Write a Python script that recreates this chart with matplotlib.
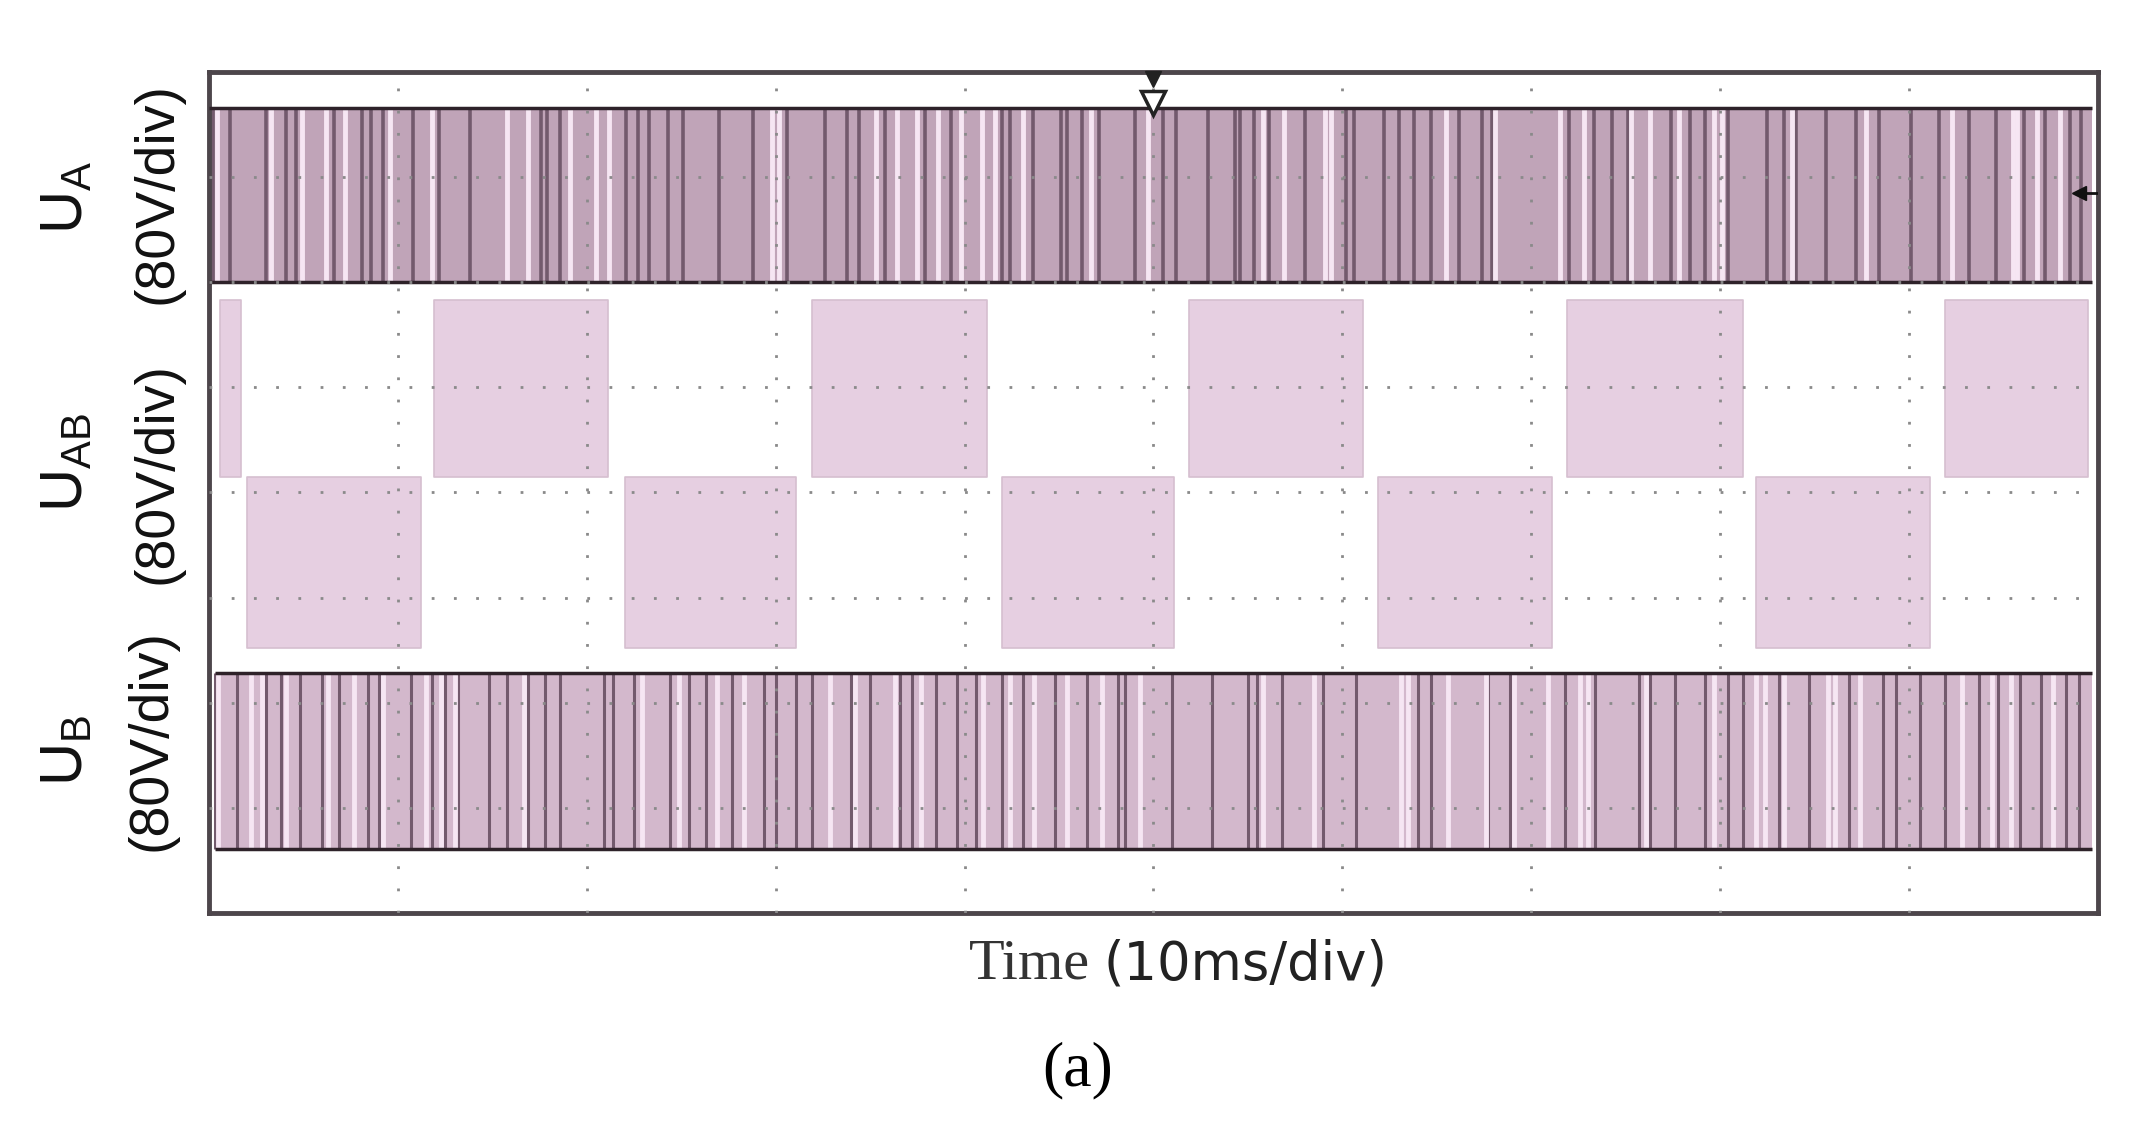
import matplotlib.pyplot as plt
import numpy as np

# ---- dados lidos do osciloscopio (eixo x e y em divisoes) ----
# niveis das tres formas de onda
ua_nivel = [6.00, 7.66]          # U_A : baixo, alto
uab_nivel = [2.52, 4.15, 5.83]   # U_AB: negativo, zero, positivo
ub_nivel = [0.61, 2.28]          # U_B : baixo, alto

# blocos positivos e negativos de U_AB (inicio, fim)
uab_pos = [(0.06, 0.17), (1.19, 2.11), (3.19, 4.12), (5.19, 6.11), (7.19, 8.12), (9.19, 9.95)]
uab_neg = [(0.20, 1.12), (2.20, 3.11), (4.20, 5.11), (6.19, 7.11), (8.19, 9.11)]

# faixas escuras / claras do PWM de U_A
ua_escuro = [0.02, 0.11, 0.30, 0.41, 0.46, 0.66, 0.81, 0.86, 0.92, 1.08, 1.22, 1.38,
             1.76, 1.79, 1.86, 2.21, 2.27, 2.33, 2.43, 2.51, 2.70, 2.88, 3.06, 3.26,
             3.38, 3.44, 3.58, 3.79, 3.93, 4.20, 4.24, 4.36, 4.51, 4.54, 4.62, 4.71,
             4.90, 5.05, 5.12, 5.29, 5.43, 5.46, 5.53, 5.61, 5.80, 6.02, 6.06, 6.22,
             6.30, 6.38, 6.47, 6.62, 6.74, 6.79, 7.20, 7.33, 7.43, 7.51, 7.74, 7.84,
             7.92, 8.04, 8.25, 8.34, 8.40, 8.56, 8.72, 8.84, 9.01, 9.16, 9.32, 9.46,
             9.61, 9.72, 9.85, 9.91]
ua_claro = [0.04, 0.33, 0.49, 0.62, 0.72, 0.96, 1.18, 1.58, 1.69, 1.91, 2.05, 2.12,
            2.98, 3.02, 3.53, 3.64, 3.75, 3.86, 3.98, 4.09, 4.16, 4.31, 4.67, 4.97,
            5.58, 5.69, 5.91, 5.94, 6.55, 6.81, 7.15, 7.28, 7.53, 7.63, 7.78, 7.97,
            8.01, 8.38, 8.77, 9.23, 9.55, 9.57, 9.68, 9.80]

# faixas escuras / claras do PWM de U_B
ub_escuro = [0.03, 0.15, 0.30, 0.38, 0.48, 0.60, 0.69, 0.84, 0.90, 1.07, 1.18, 1.25,
             1.32, 1.48, 1.58, 1.69, 1.78, 1.86, 2.09, 2.14, 2.25, 2.44, 2.54, 2.63,
             2.77, 2.94, 3.00, 3.11, 3.19, 3.40, 3.50, 3.66, 3.72, 3.85, 3.96, 4.06,
             4.20, 4.31, 4.48, 4.65, 4.81, 4.85, 5.10, 5.31, 5.50, 5.55, 5.68, 5.90,
             6.07, 6.40, 6.47, 6.77, 6.89, 7.18, 7.34, 7.57, 7.63, 7.76, 7.92, 8.04,
             8.12, 8.31, 8.47, 8.68, 8.86, 8.93, 9.06, 9.19, 9.37, 9.47, 9.59, 9.70,
             9.83, 9.90]
ub_claro = [0.05, 0.22, 0.28, 0.41, 0.63, 0.77, 0.92, 1.15, 1.23, 1.30, 1.67, 2.29,
            2.49, 2.69, 2.83, 3.29, 3.42, 3.63, 3.77, 4.10, 4.24, 4.37, 4.54, 4.73,
            4.93, 5.58, 5.85, 6.31, 6.35, 6.56, 6.76, 6.91, 7.09, 7.26, 7.30, 7.61,
            7.97, 8.19, 8.24, 8.34, 8.57, 8.61, 8.74, 9.28, 9.44, 9.54, 9.76]

rotulos = ['$\\mathregular{U_A}$', '$\\mathregular{U_{AB}}$', '$\\mathregular{U_B}$']
escala = '(80V/div)'

# ---- cores ----
c_base_a = '#c0a4b8'
c_base_b = '#d3b8cc'
c_bloco = '#e6cfe1'
c_escuro = '#735a6d'
c_claro = '#f6e6f3'
c_borda = '#2e2229'

fig = plt.figure(figsize=(21.55, 11.35), dpi=100)
ax = fig.add_axes([0.097, 0.1956, 0.8765, 0.741])
ax.set_xlim(0, 10)
ax.set_ylim(0, 8)

x_ini, x_fim = 0.0, 9.97

# U_A
ax.fill_between([x_ini, x_fim], ua_nivel[0], ua_nivel[1], color=c_base_a, lw=0, zorder=1)
ax.vlines(ua_escuro, ua_nivel[0], ua_nivel[1], colors=c_escuro, lw=2.6, zorder=2)
ax.vlines(ua_claro, ua_nivel[0], ua_nivel[1], colors=c_claro, lw=3.5, zorder=2)
ax.hlines(ua_nivel, x_ini, x_fim, colors=c_borda, lw=2.5, zorder=3)

# U_B
ax.fill_between([0.03, x_fim], ub_nivel[0], ub_nivel[1], color=c_base_b, lw=0, zorder=1)
ax.vlines(ub_escuro, ub_nivel[0], ub_nivel[1], colors=c_escuro, lw=2.2, zorder=2)
ax.vlines(ub_claro, ub_nivel[0], ub_nivel[1], colors=c_claro, lw=3.5, zorder=2)
ax.hlines(ub_nivel, 0.03, x_fim, colors=c_borda, lw=2.5, zorder=3)

# U_AB
for a, b in uab_pos:
    ax.fill_between([a, b], uab_nivel[1], uab_nivel[2], color=c_bloco,
                    edgecolor='#d6bfd0', lw=1.2, zorder=1)
for a, b in uab_neg:
    ax.fill_between([a, b], uab_nivel[0], uab_nivel[1], color=c_bloco,
                    edgecolor='#d6bfd0', lw=1.2, zorder=1)

# grade pontilhada
for i in range(1, 10):
    ax.axvline(i, color='#8a8a8a', lw=2, ls=(0, (1, 7)), zorder=4)
for j in range(1, 8):
    ax.axhline(j, color='#8a8a8a', lw=2, ls=(0, (1, 7)), zorder=4)

# marcadores do osciloscopio
ax.plot(5.0, 7.93, marker='v', ms=11, color='#222222', zorder=6, clip_on=False)
ax.plot(5.0, 7.70, marker='v', ms=17, mfc='white', mec='#222222', mew=2.5, zorder=6)
ax.plot([9.9, 10.0], [6.85, 6.85], color='#111111', lw=2, zorder=6)
ax.plot(9.9, 6.85, marker='<', ms=10, color='#111111', zorder=6)

ax.set_xticks([])
ax.set_yticks([])
for s in ax.spines.values():
    s.set_linewidth(3.5)
    s.set_color('#4d464b')

# rotulos laterais
pos_u = [(0.031, 0.826), (0.031, 0.593), (0.031, 0.339)]
pos_e = [(0.073, 0.830), (0.073, 0.583), (0.0705, 0.348)]
for r, (xu, yu), (xe, ye) in zip(rotulos, pos_u, pos_e):
    fig.text(xu, yu, r, rotation=90, fontsize=43, family='Liberation Sans',
             ha='center', va='center', color='#111111')
    fig.text(xe, ye, escala, rotation=90, fontsize=40, family='Liberation Sans',
             ha='center', va='center', color='#111111')

fig.text(0.506, 0.150, 'Time', fontsize=42, family='Liberation Serif',
         ha='right', va='center', color='#333333')
fig.text(0.512, 0.150, '(10ms/div)', fontsize=38, family='DejaVu Sans',
         ha='left', va='center', color='#222222')
fig.text(0.50, 0.057, '(a)', fontsize=46, family='Liberation Serif',
         ha='center', va='center', color='black')

plt.savefig('out.png', dpi=100)
